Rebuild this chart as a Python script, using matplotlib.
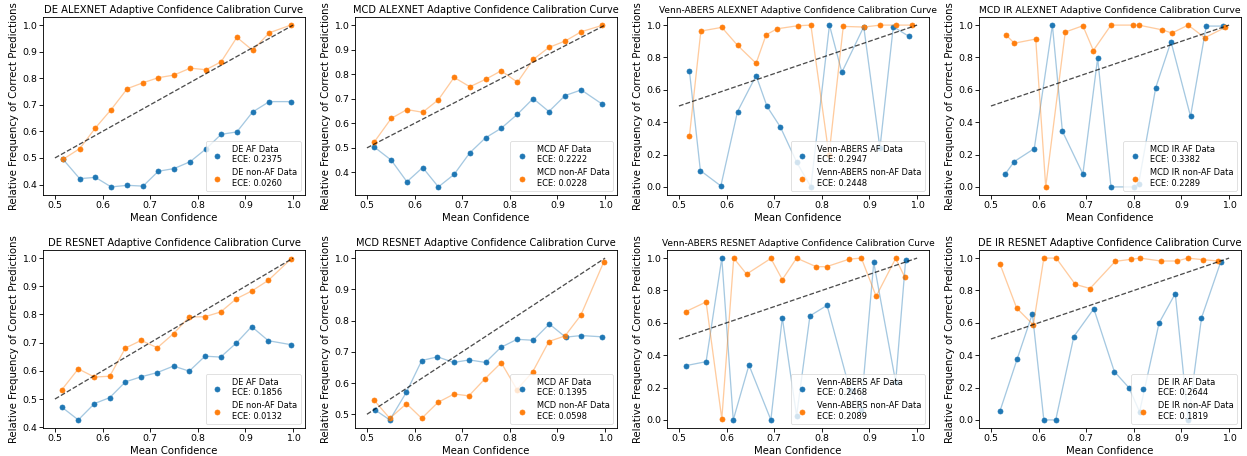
import matplotlib
matplotlib.use("Agg")
import matplotlib.pyplot as plt

# DE ALEXNET
de_alex_conf = [0.517, 0.552, 0.585, 0.618, 0.652, 0.685, 0.717, 0.750, 0.784, 0.817, 0.849, 0.882, 0.915, 0.950, 0.995]
de_alex_af = [0.495, 0.422, 0.427, 0.391, 0.397, 0.394, 0.450, 0.460, 0.486, 0.534, 0.589, 0.598, 0.673, 0.712, 0.712]
de_alex_naf = [0.495, 0.535, 0.613, 0.682, 0.761, 0.783, 0.802, 0.812, 0.838, 0.832, 0.862, 0.954, 0.905, 0.971, 1.000]

# MCD ALEXNET
mcd_alex_conf = [0.515, 0.551, 0.584, 0.617, 0.650, 0.683, 0.716, 0.749, 0.782, 0.816, 0.849, 0.882, 0.916, 0.950, 0.994]
mcd_alex_af = [0.504, 0.450, 0.362, 0.420, 0.341, 0.392, 0.480, 0.541, 0.580, 0.637, 0.701, 0.648, 0.713, 0.736, 0.678]
mcd_alex_naf = [0.523, 0.620, 0.656, 0.645, 0.696, 0.787, 0.749, 0.779, 0.814, 0.767, 0.860, 0.909, 0.935, 0.973, 0.999]

# Venn-ABERS ALEXNET
va_alex_af_conf = [0.522, 0.545, 0.588, 0.623, 0.662, 0.685, 0.713, 0.747, 0.777, 0.816, 0.842, 0.888, 0.922, 0.950, 0.983]
va_alex_af = [0.717, 0.101, 0.006, 0.466, 0.688, 0.497, 0.370, 0.154, 0.000, 1.000, 0.708, 0.990, 0.240, 0.990, 0.930]
va_alex_naf_conf = [0.522, 0.546, 0.590, 0.623, 0.662, 0.683, 0.706, 0.749, 0.777, 0.815, 0.845, 0.888, 0.923, 0.955, 0.989]
va_alex_naf = [0.314, 0.963, 0.986, 0.875, 0.764, 0.940, 0.977, 0.996, 1.000, 0.195, 0.992, 0.988, 1.000, 1.000, 1.000]

# MCD IR ALEXNET
mcdir_alex_af_conf = [0.530, 0.549, 0.591, 0.629, 0.650, 0.693, 0.724, 0.752, 0.800, 0.810, 0.846, 0.878, 0.919, 0.952, 0.987]
mcdir_alex_af = [0.080, 0.157, 0.237, 1.000, 0.344, 0.080, 0.796, 0.000, 0.000, 0.020, 0.614, 0.898, 0.436, 0.994, 0.994]
mcdir_alex_naf_conf = [0.531, 0.549, 0.594, 0.615, 0.656, 0.693, 0.715, 0.752, 0.798, 0.810, 0.859, 0.880, 0.914, 0.949, 0.992]
mcdir_alex_naf = [0.941, 0.888, 0.914, 0.000, 0.957, 0.996, 0.843, 1.000, 1.000, 1.000, 0.971, 0.951, 1.000, 0.922, 0.986]

# DE RESNET
de_res_conf = [0.514, 0.549, 0.583, 0.615, 0.648, 0.681, 0.715, 0.749, 0.782, 0.815, 0.848, 0.881, 0.913, 0.948, 0.995]
de_res_af = [0.472, 0.426, 0.484, 0.505, 0.561, 0.579, 0.594, 0.617, 0.599, 0.652, 0.649, 0.699, 0.757, 0.707, 0.693]
de_res_naf = [0.532, 0.607, 0.578, 0.581, 0.681, 0.708, 0.682, 0.732, 0.791, 0.792, 0.809, 0.856, 0.883, 0.921, 0.996]

# MCD RESNET
mcd_res_af_conf = [0.516, 0.548, 0.583, 0.615, 0.648, 0.682, 0.715, 0.749, 0.781, 0.815, 0.849, 0.883, 0.917, 0.950, 0.994]
mcd_res_af = [0.515, 0.482, 0.571, 0.672, 0.684, 0.666, 0.674, 0.666, 0.714, 0.740, 0.737, 0.789, 0.747, 0.752, 0.748]
mcd_res_naf_conf = [0.515, 0.548, 0.583, 0.615, 0.649, 0.683, 0.714, 0.748, 0.782, 0.815, 0.848, 0.882, 0.916, 0.949, 0.997]
mcd_res_naf = [0.545, 0.487, 0.534, 0.487, 0.538, 0.565, 0.559, 0.614, 0.665, 0.579, 0.636, 0.733, 0.751, 0.817, 0.987]

# Venn-ABERS RESNET
va_res_af_conf = [0.514, 0.557, 0.590, 0.614, 0.647, 0.693, 0.717, 0.747, 0.775, 0.811, 0.859, 0.882, 0.909, 0.955, 0.976]
va_res_af = [0.335, 0.360, 1.000, 0.000, 0.339, 0.000, 0.632, 0.025, 0.643, 0.708, 0.184, 0.062, 0.973, 0.234, 0.990]
va_res_naf_conf = [0.514, 0.557, 0.590, 0.615, 0.642, 0.693, 0.717, 0.747, 0.788, 0.810, 0.858, 0.883, 0.914, 0.955, 0.974]
va_res_naf = [0.669, 0.729, 0.006, 1.000, 0.901, 0.998, 0.867, 1.000, 0.947, 0.947, 0.994, 1.000, 0.764, 0.998, 0.883]

# DE IR RESNET
deir_res_af_conf = [0.519, 0.555, 0.587, 0.611, 0.636, 0.674, 0.716, 0.759, 0.790, 0.812, 0.853, 0.887, 0.914, 0.942, 0.982]
deir_res_af = [0.055, 0.376, 0.656, 0.000, 0.000, 0.515, 0.687, 0.299, 0.198, 0.050, 0.599, 0.781, 0.000, 0.630, 0.973]
deir_res_naf_conf = [0.519, 0.554, 0.589, 0.611, 0.637, 0.677, 0.708, 0.761, 0.793, 0.813, 0.857, 0.891, 0.913, 0.946, 0.977]
deir_res_naf = [0.963, 0.691, 0.587, 1.000, 1.000, 0.838, 0.812, 0.980, 0.992, 1.000, 0.982, 0.982, 1.000, 0.990, 0.982]


# Draw one calibration curve pair (AF vs non-AF) on the given axis
def plot_calibration(ax, method, model, af_conf, af_freq, af_ece, naf_conf, naf_freq, naf_ece, title_width):
    ax.plot(af_conf, af_freq, color="tab:blue", alpha=0.4, linewidth=1.8)
    ax.scatter(af_conf, af_freq, color="tab:blue", s=48,
               label=f"{method} AF Data\nECE: {af_ece:.4f}")
    ax.plot(naf_conf, naf_freq, color="tab:orange", alpha=0.4, linewidth=1.8)
    ax.scatter(naf_conf, naf_freq, color="tab:orange", s=48,
               label=f"{method} non-AF Data\nECE: {naf_ece:.4f}")
    # perfect calibration reference
    ax.plot([0.5, 1.0], [0.5, 1.0], "k--", alpha=0.7, linewidth=1.8)
    title = ax.set_title(f"{model} Adaptive Confidence Calibration Curve", fontsize=13.5)
    ax.set_xlabel("Mean Confidence", fontsize=14)
    ax.set_ylabel("Relative Frequency of Correct Predictions", fontsize=14)
    ax.tick_params(labelsize=13, width=1.2, length=5)
    for spine in ax.spines.values():
        spine.set_linewidth(1.2)
    ax.legend(loc="lower right", fontsize=11.5)

    # scale the title so it spans the requested fraction of the axes width
    renderer = ax.figure.canvas.get_renderer()
    text_w = title.get_window_extent(renderer).width
    axes_w = ax.get_window_extent(renderer).width
    title.set_fontsize(13.5 * title_width * axes_w / text_w)


fig, axes = plt.subplots(2, 4, figsize=(1247 / 52, 456 / 52), dpi=52)
plt.subplots_adjust(left=0.0345, right=0.9952, top=0.9627, bottom=0.0614, wspace=0.191, hspace=0.309)

plot_calibration(axes[0, 0], "DE", "DE ALEXNET", de_alex_conf, de_alex_af, 0.2375,
                 de_alex_conf, de_alex_naf, 0.0260, 0.99)
plot_calibration(axes[0, 1], "MCD", "MCD ALEXNET", mcd_alex_conf, mcd_alex_af, 0.2222,
                 mcd_alex_conf, mcd_alex_naf, 0.0228, 1.02)
plot_calibration(axes[0, 2], "Venn-ABERS", "Venn-ABERS ALEXNET", va_alex_af_conf, va_alex_af, 0.2947,
                 va_alex_naf_conf, va_alex_naf, 0.2448, 1.06)
plot_calibration(axes[0, 3], "MCD IR", "MCD IR ALEXNET", mcdir_alex_af_conf, mcdir_alex_af, 0.3382,
                 mcdir_alex_naf_conf, mcdir_alex_naf, 0.2289, 1.0)
plot_calibration(axes[1, 0], "DE", "DE RESNET", de_res_conf, de_res_af, 0.1856,
                 de_res_conf, de_res_naf, 0.0132, 0.97)
plot_calibration(axes[1, 1], "MCD", "MCD RESNET", mcd_res_af_conf, mcd_res_af, 0.1395,
                 mcd_res_naf_conf, mcd_res_naf, 0.0598, 1.0)
plot_calibration(axes[1, 2], "Venn-ABERS", "Venn-ABERS RESNET", va_res_af_conf, va_res_af, 0.2468,
                 va_res_naf_conf, va_res_naf, 0.2089, 1.03)
plot_calibration(axes[1, 3], "DE IR", "DE IR RESNET", deir_res_af_conf, deir_res_af, 0.2644,
                 deir_res_naf_conf, deir_res_naf, 0.1819, 1.01)

plt.savefig("out.png", dpi=52)
